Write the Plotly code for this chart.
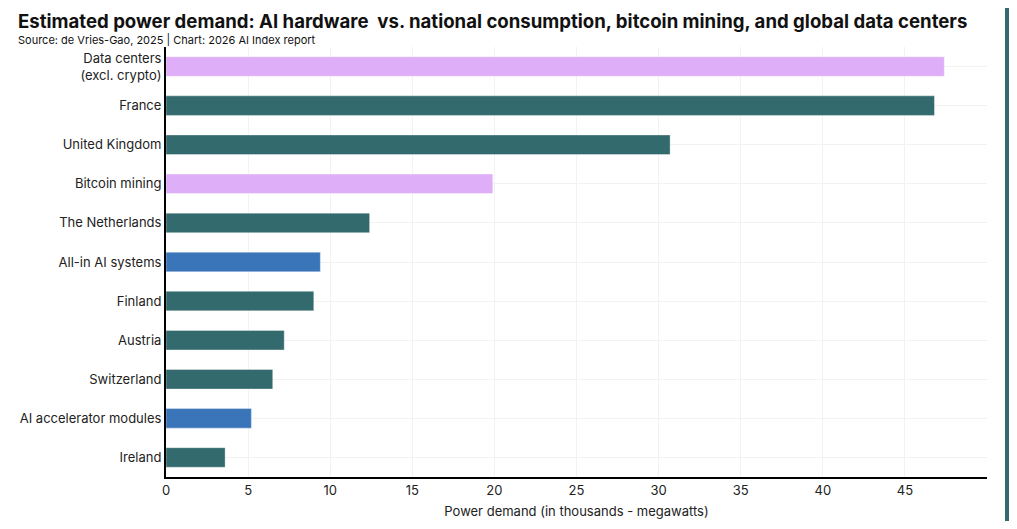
import plotly.graph_objects as go

# categories top -> bottom, as in the chart
categories = [
    "Data centers<br>(excl. crypto)",
    "France",
    "United Kingdom",
    "Bitcoin mining",
    "The Netherlands",
    "All-in AI systems",
    "Finland",
    "Austria",
    "Switzerland",
    "AI accelerator modules",
    "Ireland",
]
power_demand = [47.4, 46.8, 30.7, 19.9, 12.4, 9.4, 9.0, 7.2, 6.5, 5.2, 3.6]
group = ["other", "country", "country", "other", "country", "ai",
         "country", "country", "country", "ai", "country"]

colors = {"country": "#336a6d", "other": "#dfaef8", "ai": "#3a75b9"}

fig = go.Figure()

fig.add_bar(
    x=power_demand,
    y=categories,
    orientation="h",
    width=0.5,
    marker=dict(color=[colors[g] for g in group],
                line=dict(color="rgba(255,255,255,0.35)", width=1)),
    hoverinfo="x+y",
)

# page body has an 8px margin, so keep the figure inside the window (no scrollbars)
fig.update_layout(
    width=1001,
    height=513,
    title=dict(
        text="<b>Estimated power demand: AI hardware  vs. national consumption, bitcoin mining, and global data centers</b>",
        x=10 / 1001, xanchor="left",
        y=1 - 7 / 513, yanchor="top",
        font=dict(family="Inter, Noto Sans, sans-serif", size=18.6, color="#111111"),
    ),
    margin=dict(l=158, r=22, t=39, b=44),
    font=dict(family="Inter, Noto Sans, sans-serif", size=13, color="#222222"),
    xaxis=dict(
        range=[0, 50],
        tickvals=[0, 5, 10, 15, 20, 25, 30, 35, 40, 45],
        showgrid=True,
        gridcolor="#f2f2f2",
        zeroline=False,
        showline=True,
        linecolor="black",
        linewidth=2,
        ticks="",
        automargin=False,
        title=dict(text="Power demand (in thousands - megawatts)", standoff=10,
                   font=dict(size=13)),
    ),
    yaxis=dict(
        autorange="reversed",
        showgrid=True,
        gridcolor="#f2f2f2",
        showline=True,
        linecolor="black",
        linewidth=2,
        ticks="",
        automargin=False,
    ),
    plot_bgcolor="white",
    paper_bgcolor="white",
    showlegend=False,
    bargap=0.5,
)

fig.add_annotation(
    text="Source: de Vries-Gao, 2025 | Chart: 2026 AI Index report",
    xref="paper", yref="paper", x=-150 / 821, y=1 - 2 / 430,
    xanchor="left", yanchor="bottom", showarrow=False,
    font=dict(size=11, color="#111111"),
)

# teal edge stripe on the right side of the page
fig.add_shape(type="rect", xref="paper", yref="paper",
              x0=1.0 + 18 / 821, x1=1.0 + 23 / 821, y0=-0.2, y1=1.2,
              fillcolor="#336a6d", line_width=0, layer="above")

fig.write_html("out.html")
